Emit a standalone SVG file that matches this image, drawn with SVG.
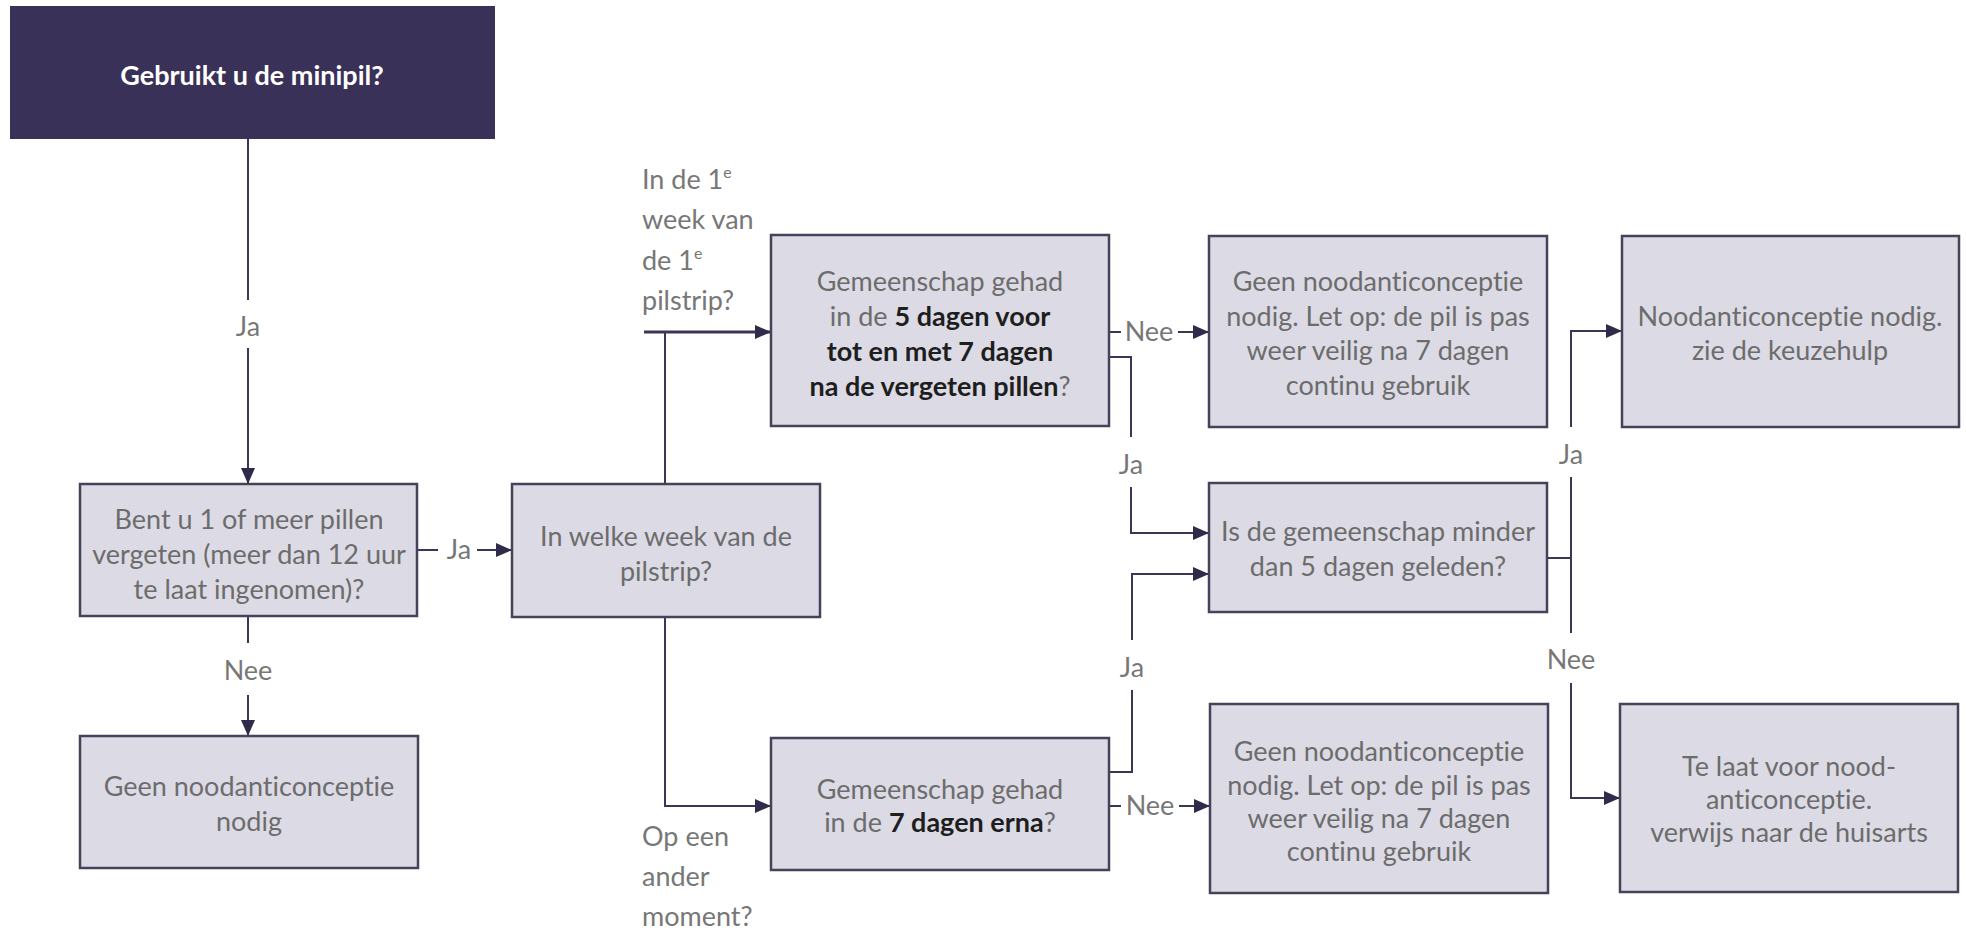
<svg xmlns="http://www.w3.org/2000/svg" width="1966" height="932" viewBox="0 0 1966 932">
<style>
.box{fill:#dcdbe5;stroke:#45425a;stroke-width:2.5}
.t{font-family:Lato,"Open Sans","Liberation Sans",sans-serif;font-size:27px;fill:#6c6c6c;text-anchor:middle;font-variant-ligatures:none}
.b{font-weight:bold;fill:#1e1e1e}
.l{font-family:Lato,"Open Sans","Liberation Sans",sans-serif;font-size:27px;fill:#777;text-anchor:middle;font-variant-ligatures:none}
.ls{text-anchor:start}
.c{fill:none;stroke:#3a3656;stroke-width:2}
</style>
<defs>
<marker id="ah" markerWidth="16" markerHeight="14" refX="16" refY="7" orient="auto" markerUnits="userSpaceOnUse">
<path d="M0,0 L16,7 L0,14 Z" fill="#2f2b4a"/>
</marker>
</defs>
<rect width="1966" height="932" fill="#ffffff"/>

<g id="connectors">
<path class="c" d="M248,139 V300"/>
<path class="c" d="M248,348 V484" marker-end="url(#ah)"/>
<text class="l" x="248" y="336">Ja</text>

<path class="c" d="M417,550 H438"/>
<path class="c" d="M477,550 H512" marker-end="url(#ah)"/>
<text class="l" x="459" y="559">Ja</text>

<path class="c" d="M248,616 V643"/>
<path class="c" d="M248,695 V736" marker-end="url(#ah)"/>
<text class="l" x="248" y="680">Nee</text>

<path class="c" d="M665,484 V332"/>
<path class="c" style="stroke-width:3" d="M644,332 H771" marker-end="url(#ah)"/>
<path class="c" d="M665,617 V806 H771" marker-end="url(#ah)"/>

<path class="c" d="M1109,332 H1121"/>
<path class="c" d="M1178,332 H1209" marker-end="url(#ah)"/>
<text class="l" x="1149" y="341">Nee</text>

<path class="c" d="M1109,357 H1131 V437"/>
<path class="c" d="M1131,487 V533 H1209" marker-end="url(#ah)"/>
<text class="l" x="1131" y="474">Ja</text>

<path class="c" d="M1109,772 H1132 V690"/>
<path class="c" d="M1132,640 V574 H1209" marker-end="url(#ah)"/>
<text class="l" x="1132" y="677">Ja</text>

<path class="c" d="M1109,806 H1121"/>
<path class="c" d="M1179,806 H1210" marker-end="url(#ah)"/>
<text class="l" x="1150" y="815">Nee</text>

<path class="c" d="M1547,558 H1571 V477"/>
<path class="c" d="M1571,427 V331 H1622" marker-end="url(#ah)"/>
<text class="l" x="1571" y="464">Ja</text>

<path class="c" d="M1571,558 V633"/>
<path class="c" d="M1571,683 V798 H1620" marker-end="url(#ah)"/>
<text class="l" x="1571" y="669">Nee</text>

<text class="l ls" x="642" y="189">In de 1<tspan dy="-11" font-size="16">e</tspan></text>
<text class="l ls" x="642" y="229">week van</text>
<text class="l ls" x="642" y="270">de 1<tspan dy="-11" font-size="16">e</tspan></text>
<text class="l ls" x="642" y="310">pilstrip?</text>

<text class="l ls" x="642" y="846">Op een</text>
<text class="l ls" x="642" y="886">ander</text>
<text class="l ls" x="642" y="926">moment?</text>
</g>

<g id="n-start">
<rect x="10" y="6" width="485" height="133" fill="#3a3158"/>
<text class="t b" x="252" y="85" style="fill:#ffffff">Gebruikt u de minipil?</text>
</g>

<g id="n-vergeten">
<rect class="box" x="80" y="484" width="337" height="132"/>
<text class="t" x="249" y="529">Bent u 1 of meer pillen</text>
<text class="t" x="249" y="564">vergeten (meer dan 12 uur</text>
<text class="t" x="249" y="599">te laat ingenomen)?</text>
</g>

<g id="n-week">
<rect class="box" x="512" y="484" width="308" height="133"/>
<text class="t" x="666" y="546">In welke week van de</text>
<text class="t" x="666" y="581">pilstrip?</text>
</g>

<g id="n-geen3">
<rect class="box" x="80" y="736" width="338" height="132"/>
<text class="t" x="249" y="796">Geen noodanticonceptie</text>
<text class="t" x="249" y="831">nodig</text>
</g>

<g id="n-5dagen">
<rect class="box" x="771" y="235" width="338" height="191"/>
<text class="t" x="940" y="291">Gemeenschap gehad</text>
<text class="t" x="940" y="326">in de <tspan class="b">5 dagen voor</tspan></text>
<text class="t b" x="940" y="361">tot en met 7 dagen</text>
<text class="t" x="940" y="396"><tspan class="b">na de vergeten pillen</tspan>?</text>
</g>

<g id="n-geen1">
<rect class="box" x="1209" y="236" width="338" height="191"/>
<text class="t" x="1378" y="291">Geen noodanticonceptie</text>
<text class="t" x="1378" y="326">nodig. Let op: de pil is pas</text>
<text class="t" x="1378" y="360">weer veilig na 7 dagen</text>
<text class="t" x="1378" y="395">continu gebruik</text>
</g>

<g id="n-nood">
<rect class="box" x="1622" y="236" width="337" height="191"/>
<text class="t" x="1790" y="326">Noodanticonceptie nodig.</text>
<text class="t" x="1790" y="360">zie de keuzehulp</text>
</g>

<g id="n-isde">
<rect class="box" x="1209" y="483" width="338" height="129"/>
<text class="t" x="1378" y="541">Is de gemeenschap minder</text>
<text class="t" x="1378" y="576">dan 5 dagen geleden?</text>
</g>

<g id="n-7dagen">
<rect class="box" x="771" y="738" width="338" height="132"/>
<text class="t" x="940" y="799">Gemeenschap gehad</text>
<text class="t" x="940" y="832">in de <tspan class="b">7 dagen erna</tspan>?</text>
</g>

<g id="n-geen2">
<rect class="box" x="1210" y="704" width="338" height="189"/>
<text class="t" x="1379" y="761">Geen noodanticonceptie</text>
<text class="t" x="1379" y="795">nodig. Let op: de pil is pas</text>
<text class="t" x="1379" y="828">weer veilig na 7 dagen</text>
<text class="t" x="1379" y="861">continu gebruik</text>
</g>

<g id="n-telaat">
<rect class="box" x="1620" y="704" width="338" height="188"/>
<text class="t" x="1789" y="776">Te laat voor nood-</text>
<text class="t" x="1789" y="809">anticonceptie.</text>
<text class="t" x="1789" y="842">verwijs naar de huisarts</text>
</g>
</svg>
